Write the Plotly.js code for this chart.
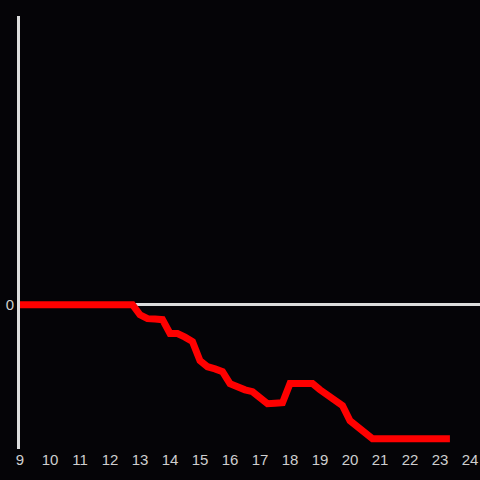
<!DOCTYPE html>
<html>
<head>
<meta charset="utf-8">
<script src="https://cdn.plot.ly/plotly-3.0.1.min.js"></script>
<style>html,body{margin:0;padding:0;background:#050407;}#chart{width:480px;height:480px;}</style>
</head>
<body>
<div id="chart"></div>
<script>
const hours = [9, 12.75, 13, 13.25, 13.5, 13.75, 14, 14.25, 14.5, 14.75, 15, 15.25, 15.5, 15.75, 16, 16.25, 16.5, 16.75, 17, 17.25, 17.5, 17.75, 18, 18.25, 18.5, 18.75, 19, 19.25, 19.5, 19.75, 20, 20.25, 20.5, 20.75, 21, 21.5, 22, 22.5, 23, 23.33];
const values = [0, 0, -0.7, -0.97, -1.0, -1.04, -2.0, -2.0, -2.25, -2.56, -3.88, -4.3, -4.45, -4.64, -5.47, -5.75, -5.9, -6.03, -6.45, -6.86, -6.83, -6.79, -5.47, -5.47, -5.47, -5.47, -5.9, -6.25, -6.6, -7.0, -8.04, -8.45, -8.9, -9.29, -9.29, -9.29, -9.29, -9.29, -9.29, -9.29];
const xTicks = [9, 10, 11, 12, 13, 14, 15, 16, 17, 18, 19, 20, 21, 22, 23, 24];

Plotly.newPlot('chart', [{
  x: hours, y: values, type: 'scatter', mode: 'lines',
  line: {color: '#ff0000', width: 7},
  hoverinfo: 'skip'
}], {
  width: 480, height: 480,
  margin: {l: 20, r: 0, t: 16, b: 31, pad: 0},
  paper_bgcolor: '#050407', plot_bgcolor: '#050407',
  showlegend: false,
  font: {family: 'Liberation Sans, Arial, sans-serif', size: 15, color: '#cfcfcf'},
  xaxis: {range: [9, 24.333], tickvals: xTicks, ticktext: xTicks.map(String), showgrid: false, zeroline: false, showline: false, ticks: '', ticklen: 0},
  yaxis: {range: [-10, 20], tickvals: [0], ticktext: ['0'], showgrid: false, zeroline: true, zerolinecolor: '#dcdcdc', zerolinewidth: 3, showline: true, linecolor: '#dcdcdc', linewidth: 3, ticks: '', ticklen: 0}
}, {displayModeBar: false, staticPlot: true});
</script>
</body>
</html>
